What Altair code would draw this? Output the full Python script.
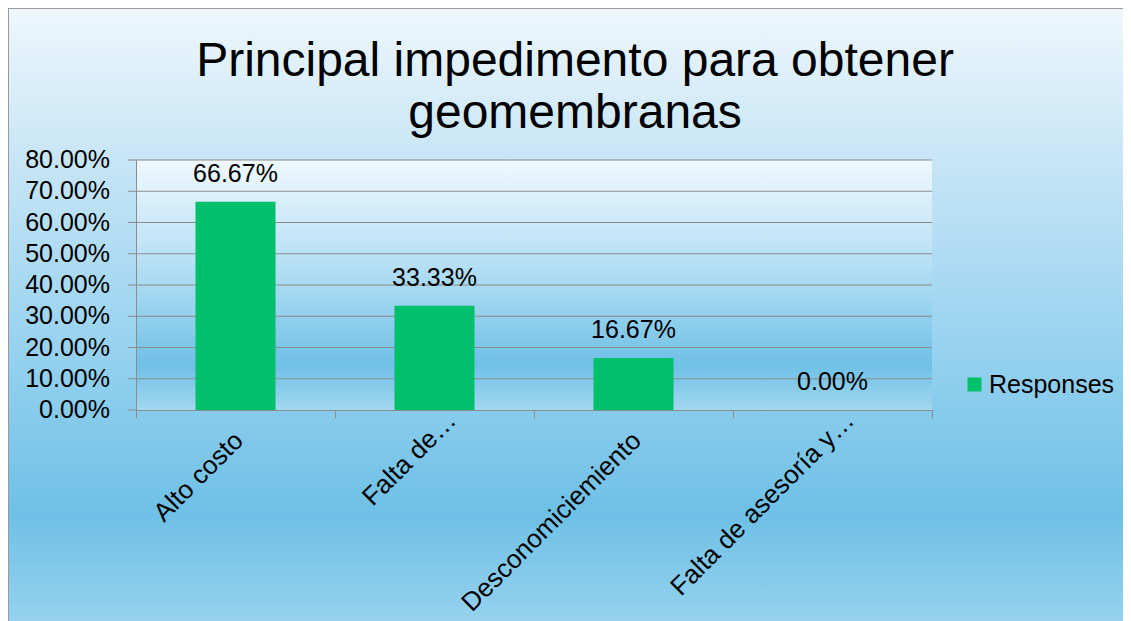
import altair as alt
import pandas as pd

categories = ["Alto costo", "Falta de…", "Desconomiciemiento", "Falta de asesoría y…"]
values = [0.6667, 0.3333, 0.1667, 0.0]
series_name = "Responses"
y_ticks = [0.0, 0.1, 0.2, 0.3, 0.4, 0.5, 0.6, 0.7, 0.8]
grid_ticks = [0.1, 0.2, 0.3, 0.4, 0.5, 0.6, 0.7, 0.8]
title_lines = ["Principal impedimento para obtener", "geomembranas"]

W, H = 796, 250
PL, PT, PR, PB = 128, 152, 191, 211
FONT = "Liberation Sans"
GRAY = "#8c8c8c"
GREEN = "#00C06B"

df = pd.DataFrame({"cat": categories, "val": values, "series": [series_name] * len(categories)})
one = pd.DataFrame({"a": [0]})
grid_df = pd.DataFrame({"t": grid_ticks})
ytick_df = pd.DataFrame({"t": y_ticks})

page_grad = alt.LinearGradient(
    gradient="linear", x1=0, y1=0, x2=0, y2=1,
    stops=[
        alt.GradientStop(color="#eef7fd", offset=0),
        alt.GradientStop(color="#c9e6f6", offset=0.23),
        alt.GradientStop(color="#95d1ef", offset=0.55),
        alt.GradientStop(color="#6ec0e6", offset=0.8),
        alt.GradientStop(color="#9dd5f0", offset=1),
    ],
)
plot_grad = alt.LinearGradient(
    gradient="linear", x1=0, y1=0, x2=0, y2=1,
    stops=[
        alt.GradientStop(color="#f0f8fe", offset=0),
        alt.GradientStop(color="#a9daf2", offset=0.5),
        alt.GradientStop(color="#6fc0e6", offset=0.82),
        alt.GradientStop(color="#a2d7f0", offset=1),
    ],
)

page_bg = alt.Chart(one).mark_rect(fill=page_grad, stroke="#9a9a9a", strokeWidth=2).encode(
    x=alt.value(-PL), x2=alt.value(W + PR + 20), y=alt.value(-PT), y2=alt.value(H + PB + 20)
)
plot_bg = alt.Chart(one).mark_rect(fill=plot_grad).encode(
    x=alt.value(0), x2=alt.value(W), y=alt.value(0), y2=alt.value(H)
)

yscale = alt.Scale(domain=[0, 0.8], nice=False)
xscale = alt.Scale(paddingInner=0, paddingOuter=0)

yaxis = alt.Axis(values=y_ticks, labels=False, ticks=False, domainColor=GRAY,
                 grid=False, zindex=1)

is_trunc = "indexof(datum.label, '…') >= 0"
xaxis = alt.Axis(labelAngle=-45, labelAlign="right", labelBaseline="middle",
                 labelFontSize=26, labelFont=FONT, labelColor="black",
                 tickBand="extent", tickSize=8, tickColor=GRAY, domainColor=GRAY,
                 labelPadding={"condition": {"test": is_trunc, "value": -2}, "value": 18},
                 labelOffset={"condition": {"test": is_trunc, "value": 17}, "value": 3},
                 zindex=1, grid=False, labelLimit=400, labelOverlap=False)

grid = alt.Chart(grid_df).mark_rule(color=GRAY, strokeWidth=1).encode(
    y=alt.Y("t:Q", scale=yscale, title=None, axis=yaxis),
    x=alt.value(0), x2=alt.value(W),
)

yticks = alt.Chart(ytick_df).mark_rule(color=GRAY, strokeWidth=1).encode(
    y=alt.Y("t:Q", scale=yscale, title=None, axis=yaxis),
    x=alt.value(-8), x2=alt.value(0),
)

ylabels = alt.Chart(ytick_df).mark_text(fontSize=25, font=FONT, color="black",
                                         align="right", baseline="middle", dx=-26).encode(
    y=alt.Y("t:Q", scale=yscale, title=None, axis=yaxis),
    x=alt.value(0),
    text=alt.Text("t:Q", format=".2%"),
)

bars = alt.Chart(df).mark_bar(size=80).encode(
    x=alt.X("cat:N", sort=categories, scale=xscale, title=None, axis=xaxis),
    y=alt.Y("val:Q", scale=yscale, title=None, axis=yaxis),
    color=alt.Color("series:N", scale=alt.Scale(domain=[series_name], range=[GREEN]),
                    legend=alt.Legend(title=None, orient="none", legendX=826, legendY=212,
                                      symbolType="square", symbolSize=196, symbolStrokeWidth=0,
                                      labelFontSize=25, labelFont=FONT, labelColor="black",
                                      labelOffset=2)),
)

labels = alt.Chart(df).mark_text(fontSize=25, font=FONT, color="black", baseline="middle", dy=-28).encode(
    x=alt.X("cat:N", sort=categories, scale=xscale, title=None, axis=xaxis),
    y=alt.Y("val:Q", scale=yscale, title=None, axis=yaxis),
    text=alt.Text("val:Q", format=".2%"),
)

chart = alt.layer(page_bg, plot_bg, grid, yticks, ylabels, bars, labels).properties(
    width=W, height=H,
    autosize=alt.AutoSizeParams(type="none"),
    padding={"left": PL, "top": PT, "right": PR, "bottom": PB},
    title=alt.TitleParams(text=title_lines, fontSize=48, font=FONT, fontWeight="normal",
                          color="black", anchor="middle", dx=41, offset=-131, lineHeight=52),
).configure_view(stroke=None)

chart.save("out.html", embed_options={"renderer": "svg", "actions": False})
